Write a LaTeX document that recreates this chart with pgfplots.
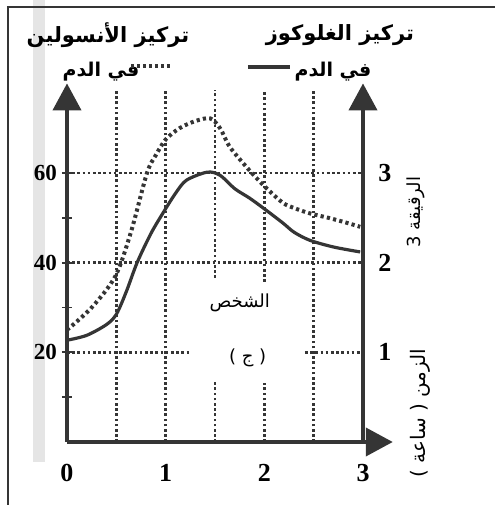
\documentclass[border=0pt]{standalone}
\usepackage{fontspec}
\setmainfont{Liberation Serif}
\newfontfamily\arabicfont[Script=Arabic]{DejaVu Sans}
\usepackage{pgfplots}
\pgfplotsset{compat=1.18}
\usetikzlibrary{arrows.meta}
\TeXXeTstate=1
\definecolor{ink}{HTML}{353535}

\begin{document}
\begin{tikzpicture}
\path[use as bounding box] (-33.5pt,-31.5pt) rectangle (214pt,221pt);
% scan strip
\fill[gray!20] (-17pt,-10pt) rectangle (-11pt,221pt);

\begin{axis}[
    scale only axis,
    width=162.9pt, height=179.3pt,
    xmin=0, xmax=3.3, ymin=0, ymax=80,
    axis lines=left,
    axis line style={line width=2pt, ink, -{Triangle[width=14pt,length=13.5pt]}},
    xtick={0,1,2,3}, ytick={20,40,60}, minor ytick={10,30,50},
    xtick style={draw=none},
    ytick style={line width=0.9pt, ink},
    tick align=center, major tick length=5pt, minor tick length=5pt,
    /pgf/number format/assume math mode=true,
    xticklabel style={font=\bfseries\fontsize{13}{13}\selectfont, yshift=-5pt},
    yticklabel style={font=\bfseries\fontsize{11.5}{11.5}\selectfont, xshift=1pt},
    clip=false,
]
% dotted grid
\addplot[ink, line width=1.4pt, dash pattern=on 1.3pt off 1.3pt] coordinates {(0.5,0) (0.5,78.5)};
\addplot[ink, line width=1.4pt, dash pattern=on 1.3pt off 1.3pt] coordinates {(1,0) (1,78.5)};
\addplot[ink, line width=1.4pt, dash pattern=on 1.3pt off 1.3pt] coordinates {(1.5,36.6) (1.5,78.5)};
\addplot[ink, line width=1.4pt, dash pattern=on 1.3pt off 1.3pt] coordinates {(1.5,0) (1.5,13.4)};
\addplot[ink, line width=1.4pt, dash pattern=on 1.3pt off 1.3pt] coordinates {(2,35.7) (2,78.5)};
\addplot[ink, line width=1.4pt, dash pattern=on 1.3pt off 1.3pt] coordinates {(2,0) (2,13.2)};
\addplot[ink, line width=1.4pt, dash pattern=on 1.3pt off 1.3pt] coordinates {(2.5,0) (2.5,78.5)};
\addplot[ink, line width=1.4pt, dash pattern=on 1.3pt off 1.3pt] coordinates {(0,60) (3,60)};
\addplot[ink, line width=1.4pt, dash pattern=on 1.3pt off 1.3pt] coordinates {(0,40) (3,40)};
\addplot[ink, line width=1.4pt, dash pattern=on 1.3pt off 1.3pt] coordinates {(0,20) (1.25,20)};
\addplot[ink, line width=1.4pt, dash pattern=on 1.3pt off 1.3pt] coordinates {(2.41,20) (3,20)};

% insulin (dotted)
\addplot[ink, smooth, line width=2pt, dash pattern=on 1.6pt off 1.6pt] coordinates {
    (0,25) (0.25,30) (0.49,37) (0.65,47) (0.81,60) (0.9,64) (1.0,67.5)
    (1.14,70) (1.3,71.6) (1.45,72.2) (1.55,70) (1.65,65.8) (1.82,61.3)
    (1.94,58.4) (2.05,56) (2.19,53.3) (2.3,52.2) (2.46,51) (2.65,50)
    (2.85,48.8) (2.97,48)
};
% glucose (solid)
\addplot[ink, smooth, line width=1.6pt] coordinates {
    (0,22.7) (0.2,23.8) (0.4,26.2) (0.5,28.5) (0.6,33.5) (0.71,40) (0.85,46.5)
    (0.97,51) (1.1,55.5) (1.21,58.4) (1.42,60.2) (1.55,59.5) (1.7,56.5)
    (1.85,54.4) (2.0,52) (2.19,48.8) (2.3,46.8) (2.46,45) (2.7,43.5) (2.97,42.4)
};

\node[font=\arabicfont\fontsize{9}{9}\selectfont] at (axis cs:1.75,31) {\beginR الشخص\endR};
\node[font=\arabicfont\fontsize{9}{9}\selectfont] at (axis cs:1.83,18.7) {\beginR ( ج )\endR};
\end{axis}

\begin{axis}[
    scale only axis,
    width=148pt, height=179.3pt,
    xmin=0, xmax=3, ymin=0, ymax=4,
    axis x line=none, axis y line=right,
    axis line style={line width=2pt, ink, -{Triangle[width=14pt,length=13.5pt]}},
    ytick={1,2,3}, ytick style={draw=none},
    /pgf/number format/assume math mode=true,
    yticklabel style={font=\bfseries\fontsize{13}{13}\selectfont, xshift=2pt},
]
\end{axis}

% titles and legend keys
\node[font=\arabicfont\bfseries\fontsize{10.5}{10.5}\selectfont] at (20.5pt,203.5pt) {\beginR تركيز الأنسولين\endR};
\node[font=\arabicfont\bfseries\fontsize{10.5}{10.5}\selectfont] at (136.5pt,203.5pt) {\beginR تركيز الغلوكوز\endR};
\node[font=\arabicfont\bfseries\fontsize{9.5}{9.5}\selectfont] at (17pt,185pt) {\beginR في الدم\endR};
\node[font=\arabicfont\bfseries\fontsize{9.5}{9.5}\selectfont] at (133pt,185pt) {\beginR في الدم\endR};
\draw[ink, line width=2pt, dash pattern=on 1.5pt off 1.5pt] (32pt,188pt) -- (53pt,188pt);
\draw[ink, line width=1.6pt] (90.5pt,187.5pt) -- (111.5pt,187.5pt);
\node[rotate=90, font=\arabicfont\fontsize{9}{9}\selectfont] at (174.5pt,115pt) {\beginR الرقيقة 3\endR};
\node[rotate=90, font=\arabicfont\fontsize{10}{10}\selectfont] at (176.5pt,14.5pt) {\beginR الزمن ( ساعة )\endR};

% scan frame
\draw[line width=1.2pt, ink] (-29.5pt,-31.5pt) -- (-29.5pt,218pt);
\draw[line width=1.2pt, ink] (-30pt,217.5pt) -- (214pt,217.5pt);
\end{tikzpicture}
\end{document}
